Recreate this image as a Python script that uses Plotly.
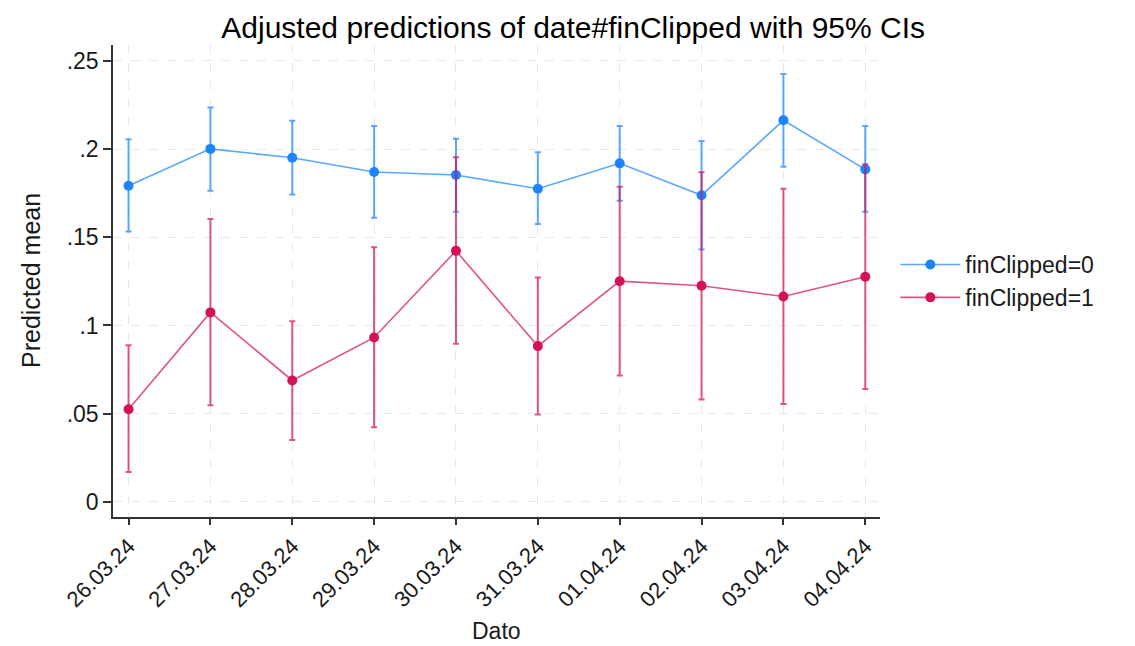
import plotly.graph_objects as go

# Adjusted predictions (margins) by date and finClipped, with 95% CIs
dates = ["26.03.24", "27.03.24", "28.03.24", "29.03.24", "30.03.24",
         "31.03.24", "01.04.24", "02.04.24", "03.04.24", "04.04.24"]

fin0_mean = [0.1792, 0.2001, 0.1951, 0.1870, 0.1853, 0.1775, 0.1919, 0.1738, 0.2163, 0.1885]
fin0_upper = [0.2056, 0.2235, 0.2161, 0.2131, 0.2059, 0.1982, 0.2131, 0.2046, 0.2426, 0.2131]
fin0_lower = [0.1533, 0.1764, 0.1743, 0.1611, 0.1645, 0.1575, 0.1707, 0.1431, 0.1900, 0.1645]

fin1_mean = [0.0525, 0.1074, 0.0688, 0.0932, 0.1423, 0.0883, 0.1251, 0.1225, 0.1164, 0.1276]
fin1_upper = [0.0888, 0.1603, 0.1024, 0.1444, 0.1953, 0.1272, 0.1787, 0.1868, 0.1775, 0.1914]
fin1_lower = [0.0169, 0.0548, 0.0351, 0.0423, 0.0896, 0.0495, 0.0716, 0.0580, 0.0555, 0.0640]

ytick_vals = [0, 0.05, 0.1, 0.15, 0.2, 0.25]
ytick_text = ["0", ".05", ".1", ".15", ".2", ".25"]

FONT = "Liberation Sans, Arial, sans-serif"
x_idx = list(range(len(dates)))

series = [
    ("finClipped=0", fin0_mean, fin0_upper, fin0_lower, (26, 133, 255)),
    ("finClipped=1", fin1_mean, fin1_upper, fin1_lower, (212, 17, 89)),
]

fig = go.Figure()
for name, mean, up, lo, (r, g, b) in series:
    soft = f"rgba({r},{g},{b},0.72)"
    solid = f"rgb({r},{g},{b})"
    fig.add_trace(go.Scatter(
        x=x_idx, y=mean, name=name, mode="lines+markers",
        line=dict(color=soft, width=1.6),
        marker=dict(color=solid, size=10),
        error_y=dict(type="data", symmetric=False,
                     array=[u - m for u, m in zip(up, mean)],
                     arrayminus=[m - l for m, l in zip(mean, lo)],
                     color=soft, thickness=2, width=3),
    ))

fig.update_layout(
    width=1135, height=646,
    margin=dict(l=113, r=255, t=45, b=129),
    paper_bgcolor="white", plot_bgcolor="white",
    font=dict(family=FONT, size=22, color="#1a1a1a"),
    title=dict(text="Adjusted predictions of date#finClipped with 95% CIs",
               x=0.505, xref="container", xanchor="center",
               y=0.958, yref="container", yanchor="middle",
               font=dict(size=30, color="#000000")),
    legend=dict(x=1.02, xanchor="left", y=0.5, yanchor="middle",
                font=dict(size=23), bgcolor="rgba(0,0,0,0)",
                itemwidth=60),
    showlegend=True,
    annotations=[
        dict(text="Dato", xref="paper", yref="paper", x=0.5, y=(516.7 - 631) / 471.7,
             xanchor="center", yanchor="middle", showarrow=False,
             font=dict(size=23, color="#1a1a1a")),
        dict(text="Predicted mean", xref="paper", yref="paper",
             x=(31 - 113) / 767, y=0.5, textangle=-90,
             xanchor="center", yanchor="middle", showarrow=False,
             font=dict(size=25, color="#1a1a1a")),
    ],
)

fig.update_xaxes(
    range=[-0.19, 9.18], tickmode="array", tickvals=x_idx, ticktext=dates,
    tickangle=-45, ticks="outside", ticklen=6, tickwidth=1.5, tickcolor="#333333",
    showline=True, linecolor="#333333", linewidth=1.5,
    showgrid=True, gridcolor="#e9e9e9", griddash="dash", gridwidth=1,
    zeroline=False, tickfont=dict(size=22), automargin=False,
)
fig.update_yaxes(
    range=[-0.0086, 0.259], tickmode="array", tickvals=ytick_vals, ticktext=ytick_text,
    ticks="outside", ticklen=8, tickwidth=1.5, tickcolor="#333333",
    showline=True, linecolor="#333333", linewidth=1.5,
    showgrid=True, gridcolor="#e9e9e9", griddash="dash", gridwidth=1,
    zeroline=False, tickfont=dict(size=23), automargin=False,
)

fig.write_html("out.html")
